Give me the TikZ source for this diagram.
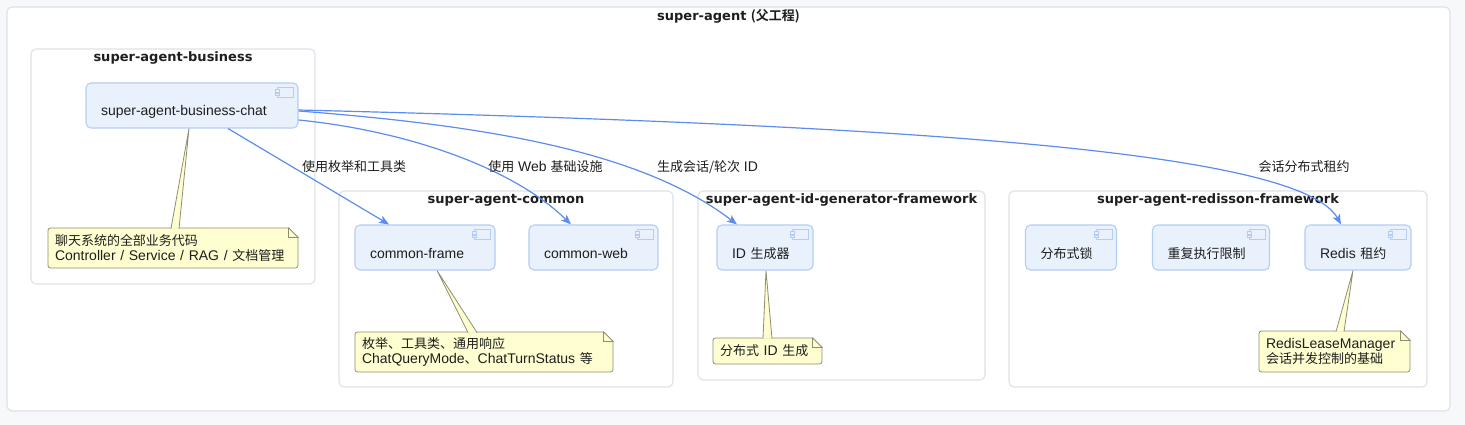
\documentclass[tikz,border=0pt]{standalone}
\usepackage{fontspec}
\setmainfont{Liberation Sans}
\newfontfamily\cjk{Noto Sans CJK SC}[BoldFont={Noto Sans CJK SC Bold}]
\newfontfamily\titlefont{DejaVu Sans}
\usetikzlibrary{arrows.meta}

\definecolor{pagebg}{HTML}{F6F8FA}
\definecolor{pkgline}{HTML}{DCE2EA}
\definecolor{compfill}{HTML}{E9F1FD}
\definecolor{compline}{HTML}{B4CDF4}
\definecolor{notefill}{HTML}{FEFED0}
\definecolor{noteline}{HTML}{8E8E72}
\definecolor{edgeblue}{HTML}{5B8DEF}
\definecolor{ink}{HTML}{1E1E1E}

\newcommand{\zh}[1]{{\cjk\fontsize{13}{15}\selectfont #1}}
\newcommand{\compicon}[1]{%
  \draw[compline, fill=compfill, line width=1pt] ([xshift=-21pt,yshift=-5pt]#1.north east) rectangle ([xshift=-5pt,yshift=-15pt]#1.north east);
  \draw[compline, fill=compfill, line width=0.8pt] ([xshift=-23pt,yshift=-7pt]#1.north east) rectangle ([xshift=-19pt,yshift=-9.5pt]#1.north east);
  \draw[compline, fill=compfill, line width=0.8pt] ([xshift=-23pt,yshift=-10.5pt]#1.north east) rectangle ([xshift=-19pt,yshift=-13pt]#1.north east);}
\newcommand{\notefold}[1]{%
  \fill[white] ([xshift=-10pt,yshift=1pt]#1.north east) -- ([xshift=1pt,yshift=1pt]#1.north east) -- ([xshift=1pt,yshift=-10pt]#1.north east) -- cycle;
  \draw[noteline, line width=0.8pt] ([xshift=-10pt]#1.north east) -- ([yshift=-10pt]#1.north east);
  \draw[noteline, line width=0.8pt] ([xshift=-10pt]#1.north east) -- ([xshift=-10pt,yshift=-10pt]#1.north east) -- ([yshift=-10pt]#1.north east);}
\newcommand{\notelink}[5]{%
  \filldraw[fill=notefill, draw=noteline, line width=0.8pt] ([xshift=#4,yshift=-1pt]#3.north) -- ([xshift=#2]#1.south) -- ([xshift=#5,yshift=-1pt]#3.north);}

\begin{document}
\begin{tikzpicture}[x=1pt, y=-1pt, font=\fontsize{14}{16}\selectfont,
    pkg/.style={draw=pkgline, fill=white, line width=1.1pt, rounded corners=5pt, inner sep=0pt},
    pkgtitle/.style={font=\titlefont\bfseries\fontsize{13}{15}\selectfont, text=ink, inner sep=0pt},
    comp/.style={draw=compline, fill=compfill, line width=1.1pt, rounded corners=5pt, minimum height=45pt,
      inner xsep=15pt, inner ysep=0pt, align=left, text height=21pt, text depth=0pt, text=ink},
    note/.style={draw=noteline, fill=notefill, line width=0.8pt, rounded corners=2.5pt, inner xsep=7pt,
      inner ysep=0pt, align=left, text=ink, font=\fontsize{14}{15.5}\selectfont},
    edge/.style={draw=edgeblue, line width=1.2pt, -{Stealth[length=10pt, width=8pt, inset=2.5pt]}},
    edgelabel/.style={text=ink, inner sep=0pt}]
    \fill[pagebg] (0,0) rectangle (1465,425);
    \useasboundingbox (0,0) rectangle (1465,425);

    % packages
    \node[pkg, minimum width=1443pt, minimum height=404pt] (parent) at (728.5,209) {};
    \node[pkgtitle] (parenttitle) at ([yshift=-10pt]parent.north) {super-agent {\cjk\bfseries (父工程)}};
    \node[pkg, minimum width=284pt, minimum height=235pt] (business) at (173,166.5) {};
    \node[pkgtitle] (businesstitle) at ([yshift=-10pt]business.north) {super-agent-business};
    \node[pkg, minimum width=334pt, minimum height=196pt] (common) at (506,289) {};
    \node[pkgtitle] (commontitle) at ([yshift=-10pt]common.north) {super-agent-common};
    \node[pkg, minimum width=287pt, minimum height=189pt] (idframework) at (841.5,285.5) {};
    \node[pkgtitle] (idframeworktitle) at ([yshift=-10pt]idframework.north) {super-agent-id-generator-framework};
    \node[pkg, minimum width=418pt, minimum height=196pt] (redisson) at (1218,289) {};
    \node[pkgtitle] (redissontitle) at ([yshift=-10pt]redisson.north) {super-agent-redisson-framework};

    % components
    \node[comp, text width=182pt] (chat) at (192,105.5) {super-agent-business-chat};
    \node[comp, text width=110pt] (frame) at (425,247.5) {common-frame};
    \node[comp, text width=99pt] (web) at (593.5,247.5) {common-web};
    \node[comp, text width=66pt] (idgen) at (765,247.5) {ID \zh{生成器}};
    \node[comp, text width=61pt] (lock) at (1071,247.5) {\zh{分布式锁}};
    \node[comp, text width=87pt] (repeatlimit) at (1211,247.5) {\zh{重复执行限制}};
    \node[comp, text width=76pt] (lease) at (1358,247.5) {Redis \zh{租约}};
    \compicon{chat}
    \compicon{frame}
    \compicon{web}
    \compicon{idgen}
    \compicon{lock}
    \compicon{repeatlimit}
    \compicon{lease}

    % notes
    \node[note, text width=236pt, minimum height=40pt] (chatnote) at (173,248)
      {\zh{聊天系统的全部业务代码}\\Controller / Service / RAG / \zh{文档管理}};
    \node[note, text width=244pt, minimum height=40pt] (framenote) at (484,352)
      {\zh{枚举、工具类、通用响应}\\ChatQueryMode\zh{、}ChatTurnStatus \zh{等}};
    \node[note, text width=95pt, minimum height=26pt] (idnote) at (767.5,351) {\zh{分布式} ID \zh{生成}};
    \node[note, text width=137pt, minimum height=41pt] (leasenote) at (1334.5,351.5)
      {RedisLeaseManager\\\zh{会话并发控制的基础}};
    \notefold{chatnote}
    \notefold{framenote}
    \notefold{idnote}
    \notefold{leasenote}
    \notelink{chat}{-3pt}{chatnote}{-2pt}{6pt}
    \notelink{frame}{12pt}{framenote}{-16pt}{-7pt}
    \notelink{idgen}{1pt}{idnote}{-4.5pt}{4.5pt}
    \notelink{lease}{-5pt}{leasenote}{1.5pt}{9.5pt}

    % dependencies
    \draw[edge] ([xshift=36pt]chat.south) -- ([xshift=-36pt]frame.north);
    \draw[edge] ([yshift=-14.5pt]chat.east) .. controls (400,130) and (510,165) .. ([xshift=-22.5pt]web.north);
    \draw[edge] ([yshift=-5.5pt]chat.east) .. controls (480,125) and (640,150) .. ([xshift=-28pt]idgen.north);
    \draw[edge] ([yshift=-4.5pt]chat.east) .. controls (900,125) and (1300,150) .. ([xshift=-17pt]lease.north);
    \node[edgelabel] (framelabel) at (354,167) {\zh{使用枚举和工具类}};
    \node[edgelabel] (weblabel) at (545.5,167) {\zh{使用} Web \zh{基础设施}};
    \node[edgelabel] (idlabel) at (707.5,167) {\zh{生成会话/轮次} ID};
    \node[edgelabel] (leaselabel) at (1304,167) {\zh{会话分布式租约}};
\end{tikzpicture}
\end{document}
